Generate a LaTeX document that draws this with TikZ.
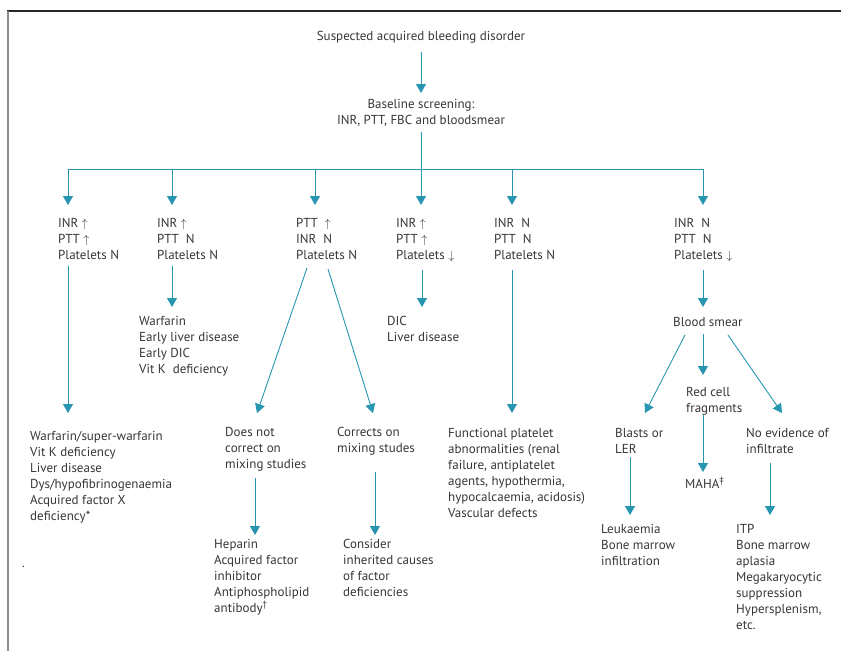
\documentclass[tikz,border=0pt]{standalone}
\usepackage{fontspec}
\setmainfont{PT Sans}
\usetikzlibrary{arrows.meta}
\definecolor{flowteal}{HTML}{2896B0}
\definecolor{flowtext}{HTML}{363636}
\tikzset{txt/.style = {anchor=base west, align=left, inner sep=0pt, text=flowtext, font=\fontsize{13}{16}\selectfont}}
\tikzset{link/.style = {draw=flowteal, line width=0.9pt}}
\tikzset{arr/.style = {link, -{Triangle[width=10pt, length=9pt]}}}

\begin{document}
\begin{tikzpicture}[x=1pt, y=-1pt]
  \useasboundingbox (0,0) rectangle (841,651);
  % frame
  \draw[line width=1.5pt, draw=black!85] (7,11) -- (841,11);
  \draw[line width=1.5pt, draw=black!45] (8,11) -- (8,651);

  % nodes sit on the baseline of their last line
  \node [txt, anchor=base] (top) at (421,40) {Suspected acquired bleeding disorder};
  \node [txt, anchor=base, align=center] (screen) at (421,124) {Baseline screening:\\INR, PTT, FBC and bloodsmear};

  % first level
  \node [txt] (c1) at (58,259) {INR $\uparrow$\\PTT $\uparrow$\\Platelets N};
  \node [txt] (c2) at (157,259) {INR $\uparrow$\\PTT\ \ N\\Platelets N};
  \node [txt] (c3) at (296,259) {PTT\ \ $\uparrow$\\INR\ \ N\\Platelets N};
  \node [txt] (c4) at (396,259) {INR $\uparrow$\\PTT $\uparrow$\\Platelets $\downarrow$};
  \node [txt] (c5) at (494,259) {INR\ \ N\\PTT\ \ N\\Platelets N};
  \node [txt] (c6) at (674,259) {INR\ \ N\\PTT\ \ N\\Platelets $\downarrow$};

  % second level
  \node [txt] (d1) at (30,520) {Warfarin/super-warfarin\\Vit K deficiency\\Liver disease\\Dys/hypofibrinogenaemia\\Acquired factor X\\deficiency*};
  \node [txt] (d2) at (139,373) {Warfarin\\Early liver disease\\Early DIC\\Vit K\ \ deficiency};
  \node [txt] (nocorr) at (225,468) {Does not\\correct on\\mixing studies};
  \node [txt] (corr) at (337,452) {Corrects on\\mixing studes};
  \node [txt] (d4) at (387,341) {DIC\\Liver disease};
  \node [txt] (d5) at (448,517) {Functional platelet\\abnormalities (renal\\failure, antiplatelet\\agents, hypothermia,\\hypocalcaemia, acidosis)\\Vascular defects};
  \node [txt] (smear) at (673,326) {Blood smear};

  % third level
  \node [txt] (heparin) at (214,612) {Heparin\\Acquired factor\\inhibitor\\Antiphospholipid\\antibody\textsuperscript{\textdagger}};
  \node [txt] (inherit) at (343,596) {Consider\\inherited causes\\of factor\\deficiencies};
  \node [txt] (blasts) at (615,453) {Blasts or\\LER};
  \node [txt] (redcell) at (686,412) {Red cell\\fragments};
  \node [txt] (noinf) at (746,453) {No evidence of\\infiltrate};
  \node [txt] (leuk) at (601,565) {Leukaemia\\Bone marrow\\infiltration};
  \node [txt] (maha) at (685,488) {MAHA\textsuperscript{\textdaggerdbl}};
  \node [txt] (itp) at (736,629) {ITP\\Bone marrow\\aplasia\\Megakaryocytic\\suppression\\Hypersplenism,\\etc.};
  \node [txt] (dot) at (22,567) {.};

  % bus
  \coordinate (b1) at (68,169);
  \coordinate (b2) at (172,169);
  \coordinate (b3) at (315,169);
  \coordinate (b4) at (421,169);
  \coordinate (b5) at (512,169);
  \coordinate (b6) at (703,169);

  \draw[arr] ([yshift=-12pt]top.base) -- ([yshift=31pt]screen.base);
  \draw[link] ([yshift=-8pt]screen.base) -- (b4);
  \draw[link] (b1) -- (b6);
  \foreach \i in {1,...,6}
    \draw[arr] (b\i) -- ([yshift=54pt]b\i |- c\i.base);

  \draw[arr] ([shift={(10,7)}]c1.base west) -- ([shift={(38,-107)}]d1.base west);
  \draw[arr] ([shift={(15,7)}]c2.base west) -- ([shift={(33,-66)}]d2.base west);
  \draw[arr] ([shift={(11,9)}]c3.base west) -- ([shift={(32,-55)}]nocorr.base west);
  \draw[arr] ([shift={(32,10)}]c3.base west) -- ([shift={(36,-39)}]corr.base west);
  \draw[arr] ([shift={(26,11)}]c4.base west) -- ([shift={(35,-34)}]d4.base west);
  \draw[arr] ([shift={(18,11)}]c5.base west) -- ([shift={(64,-104)}]d5.base west);
  \draw[arr] ([shift={(29,11)}]c6.base west) -- ([shift={(30,-19)}]smear.base west);

  \draw[arr] ([shift={(30,10)}]nocorr.base west) -- ([shift={(41,-77)}]heparin.base west);
  \draw[arr] ([shift={(38,20)}]corr.base west) -- ([shift={(32,-61)}]inherit.base west);

  \draw[arr] ([shift={(12,9)}]smear.base west) -- ([shift={(30,-40)}]blasts.base west);
  \draw[arr] ([shift={(30,8)}]smear.base west) -- ([shift={(17,-37)}]redcell.base west);
  \draw[arr] ([shift={(55,9)}]smear.base west) -- ([shift={(36,-40)}]noinf.base west);
  \draw[arr] ([shift={(15,4)}]blasts.base west) -- ([shift={(29,-50)}]leuk.base west);
  \draw[arr] ([shift={(17,3)}]redcell.base west) -- ([shift={(18,-16)}]maha.base west);
  \draw[arr] ([shift={(24,10)}]noinf.base west) -- ([shift={(34,-114)}]itp.base west);
\end{tikzpicture}
\end{document}
